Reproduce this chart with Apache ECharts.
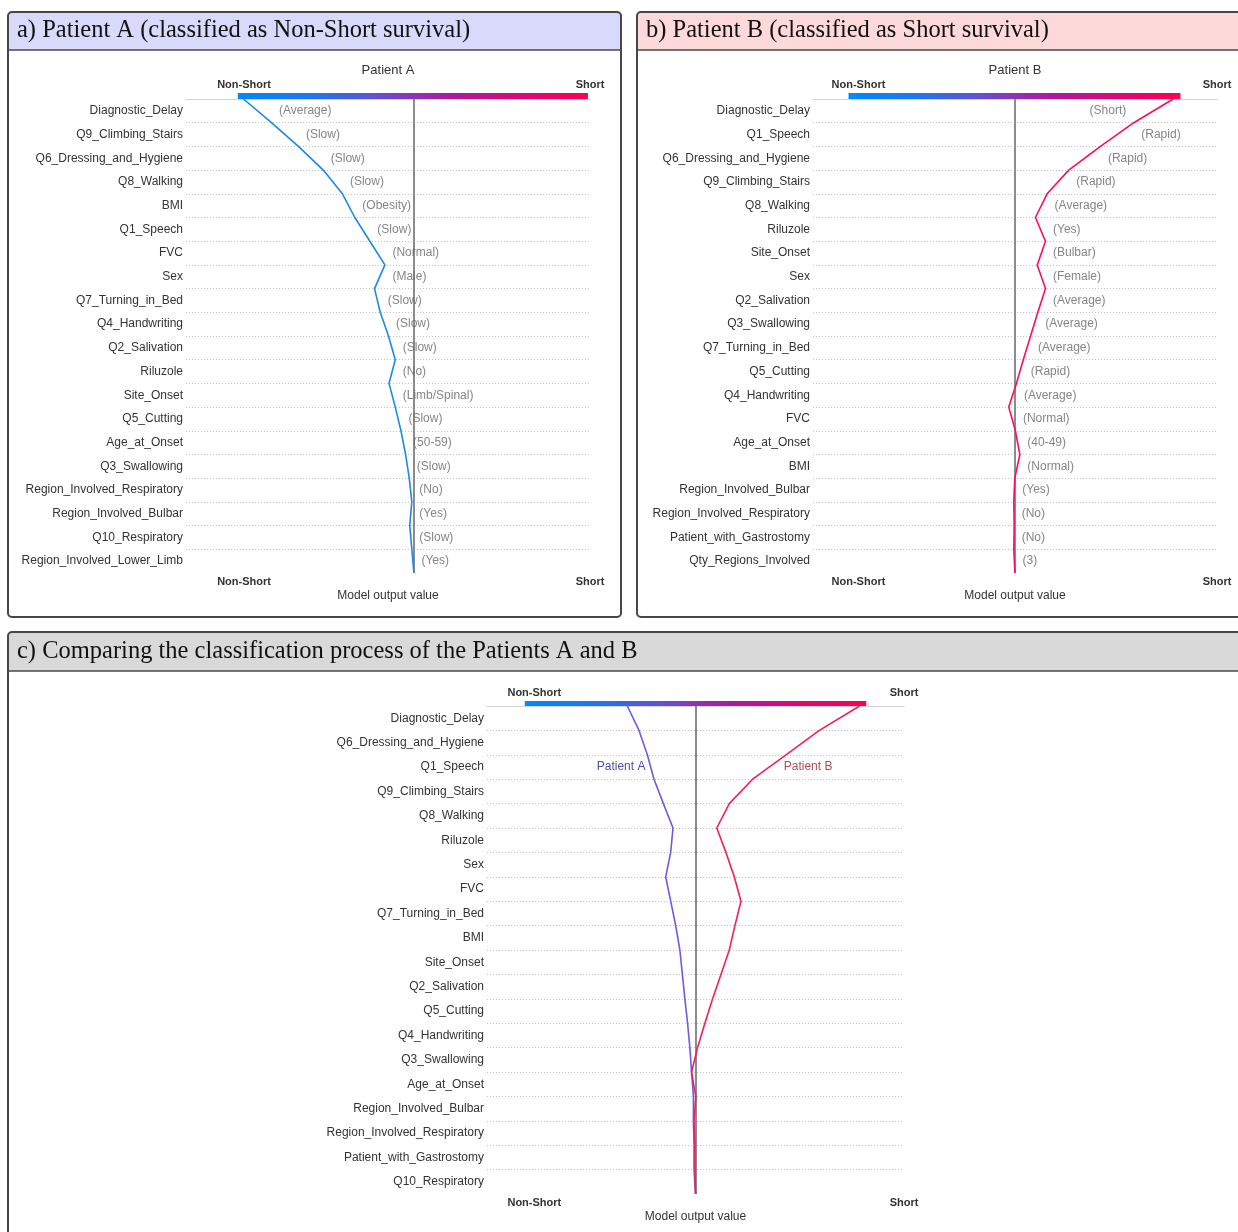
<!DOCTYPE html>
<html>
<head>
<meta charset="utf-8">
<script src="https://cdn.jsdelivr.net/npm/echarts@6/dist/echarts.min.js"></script>
<style>
  html, body { margin: 0; padding: 0; background: #ffffff; }
  #chart { width: 1238px; height: 1232px; }
</style>
</head>
<body>
<div id="chart"></div>
<script>
// ---------- data ----------
const tickNames = ['Non-Short', 'Short'];

// Patient A decision path (features ordered by importance for this patient)
const featuresA = ['Diagnostic_Delay', 'Q9_Climbing_Stairs', 'Q6_Dressing_and_Hygiene', 'Q8_Walking', 'BMI',
  'Q1_Speech', 'FVC', 'Sex', 'Q7_Turning_in_Bed', 'Q4_Handwriting', 'Q2_Salivation', 'Riluzole', 'Site_Onset',
  'Q5_Cutting', 'Age_at_Onset', 'Q3_Swallowing', 'Region_Involved_Respiratory', 'Region_Involved_Bulbar',
  'Q10_Respiratory', 'Region_Involved_Lower_Limb'];
const featureValuesA = ['(Average)', '(Slow)', '(Slow)', '(Slow)', '(Obesity)', '(Slow)', '(Normal)', '(Male)',
  '(Slow)', '(Slow)', '(Slow)', '(No)', '(Limb/Spinal)', '(Slow)', '(50-59)', '(Slow)', '(No)', '(Yes)',
  '(Slow)', '(Yes)'];
// cumulative model output at each row boundary: prediction (top) down to the base value (bottom)
const outputPathA = [-0.329, -0.275, -0.223, -0.175, -0.138, -0.114, -0.085, -0.056, -0.076, -0.065, -0.049,
  -0.036, -0.048, -0.036, -0.025, -0.016, -0.009, -0.004, -0.008, -0.004, 0];

// Patient B decision path
const featuresB = ['Diagnostic_Delay', 'Q1_Speech', 'Q6_Dressing_and_Hygiene', 'Q9_Climbing_Stairs', 'Q8_Walking',
  'Riluzole', 'Site_Onset', 'Sex', 'Q2_Salivation', 'Q3_Swallowing', 'Q7_Turning_in_Bed', 'Q5_Cutting',
  'Q4_Handwriting', 'FVC', 'Age_at_Onset', 'BMI', 'Region_Involved_Bulbar', 'Region_Involved_Respiratory',
  'Patient_with_Gastrostomy', 'Qty_Regions_Involved'];
const featureValuesB = ['(Short)', '(Rapid)', '(Rapid)', '(Rapid)', '(Average)', '(Yes)', '(Bulbar)', '(Female)',
  '(Average)', '(Average)', '(Average)', '(Rapid)', '(Average)', '(Normal)', '(40-49)', '(Normal)', '(Yes)',
  '(No)', '(No)', '(3)'];
const outputPathB = [0.783, 0.588, 0.423, 0.266, 0.159, 0.101, 0.151, 0.110, 0.151, 0.113, 0.077, 0.041, 0.007,
  -0.031, 0.002, 0.024, -0.001, -0.006, -0.004, -0.006, 0];

// Both patients on a shared feature order
const featuresC = ['Diagnostic_Delay', 'Q6_Dressing_and_Hygiene', 'Q1_Speech', 'Q9_Climbing_Stairs', 'Q8_Walking',
  'Riluzole', 'Sex', 'FVC', 'Q7_Turning_in_Bed', 'BMI', 'Site_Onset', 'Q2_Salivation', 'Q5_Cutting',
  'Q4_Handwriting', 'Q3_Swallowing', 'Age_at_Onset', 'Region_Involved_Bulbar', 'Region_Involved_Respiratory',
  'Patient_with_Gastrostomy', 'Q10_Respiratory'];
const outputPathCA = [-0.327, -0.271, -0.231, -0.199, -0.154, -0.108, -0.119, -0.143, -0.119, -0.095, -0.075,
  -0.063, -0.051, -0.038, -0.027, -0.019, -0.010, -0.010, -0.007, -0.007, 0];
const outputPathCB = [0.787, 0.594, 0.434, 0.274, 0.162, 0.102, 0.146, 0.186, 0.218, 0.189, 0.162, 0.122, 0.082,
  0.045, 0.010, -0.019, 0.001, -0.007, -0.003, -0.003, 0];

const baseValue = 0;
const axisRangeA = [-0.44, 0.34];
const axisRangeB = [-1, 1];
const axisRangeC = [-1, 1];
const tickValuesA = [-0.328, 0.34];
const tickValuesB = [-0.775, 1];
const tickValuesC = [-0.773, 1];
const colorBarA = [-0.34, 0.336];
const colorBarB = [-0.824, 0.819];
const colorBarC = [-0.819, 0.819];
const pathLabels = ['Patient A', 'Patient B'];
const pathLabelAnchors = [[-0.357, 2.5], [0.54, 2.5]];

// ---------- styling ----------
const SANS = '"Liberation Sans", Arial, Helvetica, sans-serif';
const SERIF = '"Liberation Serif", "Times New Roman", serif';
const GRADIENT = [
  { offset: 0, color: '#008afa' },
  { offset: 0.2, color: '#1b78f0' },
  { offset: 0.4, color: '#6450d0' },
  { offset: 0.5, color: '#8a34b6' },
  { offset: 0.6, color: '#a81d9e' },
  { offset: 0.8, color: '#d60a7a' },
  { offset: 1, color: '#ff0052' }
];

const panels = [
  { left: 186, width: 404, barTop: 93, top: 99, height: 474, range: axisRangeA, ticks: tickValuesA,
    colorBar: colorBarA, features: featuresA,
    paths: [{ data: outputPathA, color: '#1e88e8' }], values: featureValuesA },
  { left: 813, width: 404, barTop: 93, top: 99, height: 474, range: axisRangeB, ticks: tickValuesB,
    colorBar: colorBarB, features: featuresB,
    paths: [{ data: outputPathB, color: '#ff0d57' }], values: featureValuesB },
  { left: 487, width: 417, barTop: 701, top: 706, height: 488, range: axisRangeC, ticks: tickValuesC,
    colorBar: colorBarC, features: featuresC,
    paths: [{ data: outputPathCA, color: '#6b5ce6' }, { data: outputPathCB, color: '#f21f5c' }],
    annotations: true }
];

const measureCtx = document.createElement('canvas').getContext('2d');
measureCtx.font = '12px ' + SANS;
function textWidth(t) { return measureCtx.measureText(t).width; }

const grid = [], xAxis = [], yAxis = [], series = [];

panels.forEach((p) => {
  const gBar = grid.length;
  grid.push({ left: p.left, top: p.barTop, width: p.width, height: p.top - p.barTop });
  const gMain = grid.length;
  grid.push({ left: p.left, top: p.top, width: p.width, height: p.height });

  const tickFormatter = (v) => {
    const i = p.ticks.findIndex((t) => Math.abs(t - v) < 1e-9);
    return i >= 0 ? tickNames[i] : '';
  };
  const tickLabel = (margin) => ({
    customValues: p.ticks, formatter: tickFormatter, margin: margin,
    fontFamily: SANS, fontSize: 11, fontWeight: 'bold', color: '#333'
  });

  const xBar = xAxis.length;
  xAxis.push({
    type: 'value', gridIndex: gBar, min: p.range[0], max: p.range[1], position: 'top',
    axisLine: { show: true, lineStyle: { color: '#d4d4d4', width: 1 } },
    axisTick: { show: false }, splitLine: { show: false }, axisLabel: tickLabel(3)
  });
  const xMain = xAxis.length;
  xAxis.push({
    type: 'value', gridIndex: gMain, min: p.range[0], max: p.range[1], position: 'bottom',
    name: 'Model output value', nameLocation: 'middle', nameGap: 17,
    nameTextStyle: { fontFamily: SANS, fontSize: 12, color: '#333' },
    axisLine: { show: true, lineStyle: { color: '#d4d4d4', width: 1 } },
    axisTick: { show: false }, splitLine: { show: false }, axisLabel: tickLabel(3)
  });

  const yBar = yAxis.length;
  yAxis.push({ type: 'value', gridIndex: gBar, min: 0, max: 1, show: false });
  yAxis.push({
    type: 'category', gridIndex: gMain, data: p.features, inverse: true,
    axisLine: { show: false }, axisTick: { show: false }, splitLine: { show: false },
    axisLabel: { margin: 3, fontFamily: SANS, fontSize: 12, color: '#333' }
  });
  const yVal = yAxis.length;
  yAxis.push({
    type: 'value', gridIndex: gMain, min: 0, max: p.features.length, interval: 1, inverse: true,
    position: 'right', axisLine: { show: false }, axisTick: { show: false }, axisLabel: { show: false },
    splitLine: { show: true, showMinLine: false, showMaxLine: false,
      lineStyle: { color: '#c2c2c2', type: [1, 2], width: 1 } }
  });

  // colour bar spanning the output range
  series.push({
    type: 'custom', xAxisIndex: xBar, yAxisIndex: yBar, silent: true,
    encode: { x: [0, 1] }, data: [p.colorBar],
    renderItem: (params, api) => {
      const a = api.coord([api.value(0), 1]);
      const b = api.coord([api.value(1), 0]);
      return {
        type: 'rect',
        shape: { x: a[0], y: a[1], width: b[0] - a[0], height: b[1] - a[1] },
        style: { fill: new echarts.graphic.LinearGradient(0, 0, 1, 0, GRADIENT) }
      };
    }
  });

  // base value reference line, kept beneath the decision paths
  series.push({
    type: 'line', xAxisIndex: xMain, yAxisIndex: yVal, data: [], silent: true, z: 1,
    markLine: {
      z: 1, symbol: 'none', silent: true, label: { show: false },
      lineStyle: { color: '#8c8c8c', width: 2, type: 'solid' },
      data: [{ xAxis: baseValue }]
    }
  });

  // decision paths
  p.paths.forEach((path) => {
    series.push({
      type: 'line', xAxisIndex: xMain, yAxisIndex: yVal, z: 6, silent: true,
      showSymbol: false, symbol: 'none',
      lineStyle: { color: path.color, width: 1.6 },
      data: path.data.map((v, i) => [v, i])
    });
  });

  // feature value annotations placed beside each segment
  if (p.values) {
    const pxPerUnit = p.width / (p.range[1] - p.range[0]);
    const path = p.paths[0].data;
    const items = p.values.map((txt, r) => {
      const hi = Math.max(path[r], path[r + 1]);
      const lo = Math.min(path[r], path[r + 1]);
      const xRight = p.left + (hi - p.range[0]) * pxPerUnit + 7 + textWidth(txt);
      const overflow = xRight > p.left + p.width - 4;
      return {
        name: txt,
        value: [overflow ? lo : hi, r + 0.5],
        label: { position: overflow ? 'left' : 'right' }
      };
    });
    series.push({
      type: 'scatter', xAxisIndex: xMain, yAxisIndex: yVal, silent: true, z: 7,
      symbolSize: 1, itemStyle: { color: 'rgba(0,0,0,0)' },
      label: { show: true, distance: 7, formatter: (d) => d.name,
        fontFamily: SANS, fontSize: 12, color: '#666' },
      data: items
    });
  }

  if (p.annotations) {
    const labelColors = ['#20208c', '#9a1c28'];
    series.push({
      type: 'scatter', xAxisIndex: xMain, yAxisIndex: yVal, silent: true, z: 7,
      symbolSize: 1, itemStyle: { color: 'rgba(0,0,0,0)' },
      data: pathLabels.map((t, i) => ({
        name: t, value: pathLabelAnchors[i],
        label: { show: true, position: 'inside', formatter: (d) => d.name,
          fontFamily: SANS, fontSize: 12, color: labelColors[i] }
      }))
    });
  }
});

// panel frames and headers
const BORDER = '#474747';
function panelFrame(x, y, w, h, headerH, fill, title) {
  return [
    { type: 'rect', silent: true, z: 0, shape: { x: x, y: y, width: w, height: headerH, r: [4, 4, 0, 0] },
      style: { fill: fill } },
    { type: 'rect', silent: true, z: 10, shape: { x: x, y: y, width: w, height: h, r: 4 },
      style: { fill: 'transparent', stroke: BORDER, lineWidth: 2 } },
    { type: 'line', silent: true, z: 10, shape: { x1: x, y1: y + headerH, x2: x + w, y2: y + headerH },
      style: { stroke: BORDER, lineWidth: 1.5 } },
    { type: 'text', silent: true, z: 11, x: x + 9, y: y + headerH / 2,
      style: { text: title, fontFamily: SERIF, fontSize: 24.5, fill: '#111', align: 'left', verticalAlign: 'middle' } }
  ];
}

const graphic = [].concat(
  panelFrame(8, 12, 613, 605, 38, '#d9d9fb', 'a) Patient A (classified as Non-Short survival)'),
  panelFrame(637, 12, 620, 605, 38, '#fdd9d9', 'b) Patient B (classified as Short survival)'),
  panelFrame(8, 632, 1250, 620, 39, '#d9d9d9', 'c) Comparing the classification process of the Patients A and B'),
  [
    { type: 'text', silent: true, x: 388, y: 70,
      style: { text: 'Patient A', fontFamily: SANS, fontSize: 13, fill: '#333', align: 'center', verticalAlign: 'middle' } },
    { type: 'text', silent: true, x: 1015, y: 70,
      style: { text: 'Patient B', fontFamily: SANS, fontSize: 13, fill: '#333', align: 'center', verticalAlign: 'middle' } }
  ]
);

const chart = echarts.init(document.getElementById('chart'), null, { renderer: 'canvas' });
chart.setOption({
  animation: false,
  backgroundColor: '#ffffff',
  grid: grid,
  xAxis: xAxis,
  yAxis: yAxis,
  series: series,
  graphic: graphic
});
</script>
</body>
</html>
